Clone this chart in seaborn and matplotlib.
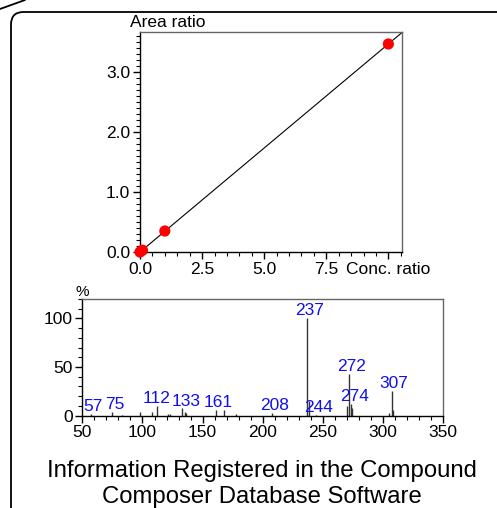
import numpy as np
import matplotlib
matplotlib.use("Agg")
import matplotlib.pyplot as plt
from matplotlib.patches import FancyBboxPatch
from matplotlib.lines import Line2D
from matplotlib.ticker import MultipleLocator
import seaborn as sns

# Calibration points (conc. ratio vs area ratio)
conc_ratio = [0.0, 0.1, 1.0, 10.0]
area_ratio = [0.0, 0.03, 0.35, 3.47]

# Mass spectrum peaks
mz = [57, 75, 83, 98, 108, 112, 121, 123, 133, 135, 136, 161, 168, 178,
      208, 237, 238, 244, 270, 272, 273, 274, 305, 307, 308]
intensity = [1.5, 4, 1, 4, 4, 10, 1.5, 1.5, 8, 4, 3, 6, 6, 2,
             3, 100, 15, 1, 10, 43, 12, 8, 3, 25, 6]
labeled = [57, 75, 112, 133, 161, 208, 237, 244, 272, 274, 307]

caption = "Information Registered in the Compound\nComposer Database Software"

sns.set_style("ticks")
plt.rcParams['font.family'] = ['Liberation Sans', 'DejaVu Sans']
plt.rcParams['text.color'] = 'black'
plt.rcParams['xtick.labelcolor'] = 'black'
plt.rcParams['ytick.labelcolor'] = 'black'

W, H = 497, 508
fig = plt.figure(figsize=(W / 100, H / 100), dpi=100)

def px_rect(left, top, right, bottom):
    return [left / W, 1 - bottom / H, (right - left) / W, (bottom - top) / H]

# outer rounded frame + corner line
frame = FancyBboxPatch((11 / W, -0.05), 1.1, 0.05 + 1 - 12 / H,
                       boxstyle="round,pad=0,rounding_size=0.025",
                       transform=fig.transFigure, fill=False,
                       edgecolor='black', lw=1.3)
fig.add_artist(frame)
fig.add_artist(Line2D([0, 25 / W], [1 - 9 / H, 1], transform=fig.transFigure,
                      color='black', lw=1.3))

def style_axes(ax):
    for s in ['left', 'bottom']:
        ax.spines[s].set_color('black')
        ax.spines[s].set_linewidth(1.0)
    for s in ['top', 'right']:
        ax.spines[s].set_visible(True)
        ax.spines[s].set_color('#666666')
        ax.spines[s].set_linewidth(1.0)
    ax.tick_params(which='major', direction='out', length=5, width=1,
                   labelsize=12.5, pad=2, color='black', labelcolor='black')
    ax.tick_params(which='minor', direction='out', length=3, width=0.8,
                   color='black')
    ax.set_facecolor('white')

# calibration curve
ax1 = fig.add_axes(px_rect(140, 32, 402, 252))
ax1.set_xlim(0, 10.55)
ax1.set_ylim(0, 3.67)
sns.regplot(x=conc_ratio, y=area_ratio, ax=ax1, scatter=False, ci=None,
            truncate=False, line_kws=dict(color='black', lw=0.8))
sns.scatterplot(x=conc_ratio, y=area_ratio, ax=ax1, color='red', s=65,
                edgecolor='none', clip_on=False, zorder=5, legend=False)
ax1.set_xlim(0, 10.55)
ax1.set_ylim(0, 3.67)
ax1.set_xticks([0, 2.5, 5, 7.5, 10])
ax1.set_xticklabels(['0.0', '2.5', '5.0', '7.5', 'Conc. ratio'])
ax1.set_yticks([0, 1, 2, 3])
ax1.set_yticklabels(['0.0', '1.0', '2.0', '3.0'])
ax1.xaxis.set_minor_locator(MultipleLocator(0.5))
ax1.yaxis.set_minor_locator(MultipleLocator(0.1))
style_axes(ax1)
ax1.set_xlabel('')
ax1.set_ylabel('')
ax1.text(0.107, 1.01, 'Area ratio', transform=ax1.transAxes,
         ha='center', va='bottom', fontsize=12.5)

# mass spectrum
ax2 = fig.add_axes(px_rect(82.3, 299, 443.3, 415.5))
ax2.vlines(mz, 0, intensity, color='#333333', lw=1)
# label nudges (dx, dy) to keep labels apart
nudge = {274: (2, 4), 112: (0, 0), 133: (3.5, -1)}
for m, h in zip(mz, intensity):
    if m in labeled:
        dx, dy = nudge.get(m, (2, 0))
        ax2.text(m + dx, h + dy, str(m), color='#1010ee',
                 ha='center', va='bottom', fontsize=12.5)
ax2.set_xlim(50, 350)
ax2.set_ylim(0, 120)
ax2.set_xticks(range(50, 351, 50))
ax2.set_yticks([0, 50, 100])
ax2.xaxis.set_minor_locator(MultipleLocator(10))
ax2.yaxis.set_minor_locator(MultipleLocator(10))
style_axes(ax2)
ax2.text(0, 1.0, '%', transform=ax2.transAxes, ha='center', va='bottom',
         fontsize=11)

fig.text(262 / W, 1 - 484 / H, caption, ha='center', va='center',
         fontsize=17.2, linespacing=1.25)

fig.savefig("out.png", dpi=100, facecolor='white')
